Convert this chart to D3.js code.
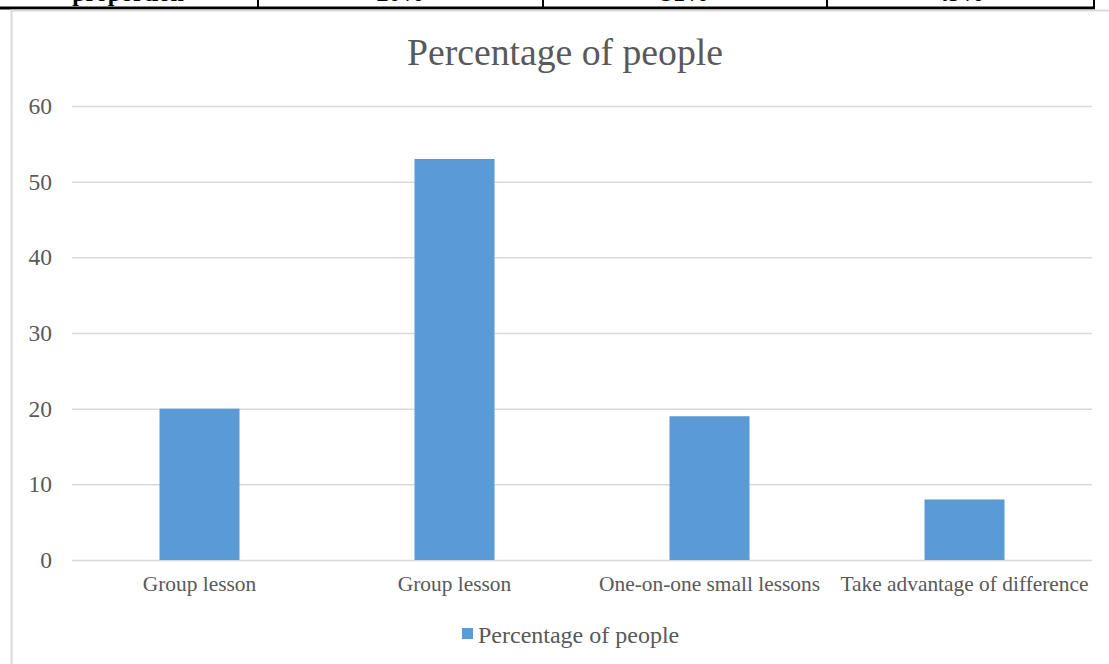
<!DOCTYPE html>
<html>
<head>
<meta charset="utf-8">
<script src="https://cdn.jsdelivr.net/npm/d3@7"></script>
<style>
  body { margin: 0; background: #fff; }
  svg { display: block; }
</style>
</head>
<body>
<svg id="chart"></svg>
<script>
const width = 1109;
const height = 664;
const margin = { top: 106, bottom: 104, left: 72, right: 17 };

// data
const categories = ["Group lesson", "Group lesson", "One-on-one small lessons", "Take advantage of difference"];
const values = [20, 53, 19, 8];
const yTicks = [0, 10, 20, 30, 40, 50, 60];
const seriesName = "Percentage of people";
// table row cut off at the top of the page
const tableCells = ["proportion", "20%", "31%", "49%"];

const svg = d3.select("#chart")
    .attr("width", width)
    .attr("height", height)
    .style("font-family", "'Liberation Serif', 'Times New Roman', serif");

// table fragment
const colEdges = [-2, 258, 543, 827, 1094];
svg.append("g")
    .selectAll("text")
    .data(tableCells)
    .join("text")
    .attr("x", (d, i) => (colEdges[i] + colEdges[i + 1]) / 2)
    .attr("y", 1)
    .attr("text-anchor", "middle")
    .attr("font-size", "24px")
    .attr("font-weight", "bold")
    .attr("fill", "#000")
    .text(d => d);

svg.append("line")
    .attr("x1", 0).attr("x2", 1095)
    .attr("y1", 8).attr("y2", 8)
    .attr("stroke", "#000").attr("stroke-width", 3);
svg.append("g")
    .selectAll("line")
    .data(colEdges.slice(1))
    .join("line")
    .attr("x1", d => d).attr("x2", d => d)
    .attr("y1", 0).attr("y2", 8)
    .attr("stroke", "#000").attr("stroke-width", 2);

// chart frame
svg.append("path")
    .attr("d", `M11.5,${height} V10.5 H${width}`)
    .attr("fill", "none")
    .attr("stroke", "#d9d9d9")
    .attr("stroke-width", 2);

const xScale = d3.scaleBand()
    .domain(d3.range(categories.length))
    .range([margin.left, width - margin.right])
    .paddingInner(0)
    .paddingOuter(0);

const yScale = d3.scaleLinear()
    .domain([0, 60])
    .range([height - margin.bottom, margin.top]);

// grid + y labels
svg.append("g")
    .attr("transform", `translate(${margin.left},0)`)
    .call(d3.axisLeft(yScale)
        .tickValues(yTicks)
        .tickSize(-(width - margin.left - margin.right))
        .tickPadding(20))
    .call(g => g.select(".domain").remove())
    .call(g => g.selectAll(".tick line").attr("stroke", "#d9d9d9").attr("stroke-width", 1.5))
    .call(g => g.selectAll(".tick text")
        .attr("fill", "#595959")
        .attr("font-size", "23.5px")
        .attr("font-family", "'Liberation Serif', 'Times New Roman', serif"));

// bars
const barW = 80;
svg.append("g")
    .attr("fill", "#5b9bd5")
    .selectAll("rect")
    .data(values)
    .join("rect")
    .attr("x", (d, i) => xScale(i) + xScale.bandwidth() / 2 - barW / 2)
    .attr("y", d => yScale(d))
    .attr("width", barW)
    .attr("height", d => yScale(0) - yScale(d));

// x labels
svg.append("g")
    .attr("transform", `translate(0,${height - margin.bottom})`)
    .call(d3.axisBottom(xScale)
        .tickFormat(i => categories[i])
        .tickSize(0)
        .tickPadding(16))
    .call(g => g.select(".domain").remove())
    .call(g => g.selectAll(".tick text")
        .attr("fill", "#595959")
        .attr("font-size", "21.4px")
        .attr("font-family", "'Liberation Serif', 'Times New Roman', serif"));

// title
svg.append("text")
    .attr("x", 565)
    .attr("y", 65)
    .attr("text-anchor", "middle")
    .attr("font-size", "37.7px")
    .attr("fill", "#595959")
    .text(seriesName);

// legend
const legend = svg.append("g").attr("transform", "translate(462,628)");
legend.append("rect")
    .attr("width", 11).attr("height", 11)
    .attr("fill", "#5b9bd5");
legend.append("text")
    .attr("x", 16)
    .attr("y", 15)
    .attr("font-size", "24px")
    .attr("fill", "#595959")
    .text(seriesName);
</script>
</body>
</html>
